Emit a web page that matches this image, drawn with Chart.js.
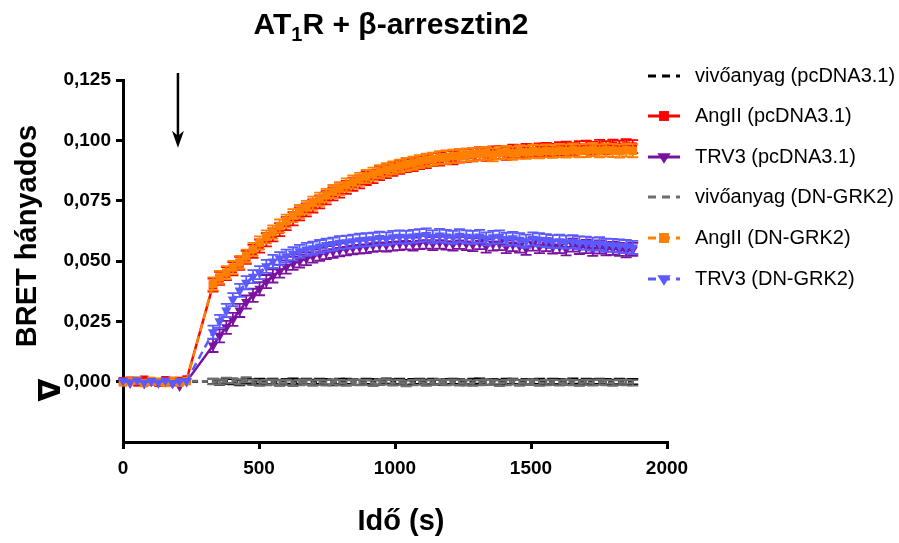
<!DOCTYPE html>
<html><head><meta charset="utf-8">
<script src="https://cdn.jsdelivr.net/npm/chart.js@4"></script>
<style>html,body{margin:0;padding:0;background:#fff}</style>
</head><body>
<canvas id="c" width="899" height="543"></canvas>
<script>
// ---- data ----
const times = [0,26,52,78,104,130,156,182,208,234,
 331,355,380,404,429,453,478,502,527,551,576,600,625,649,674,698,723,747,772,796,
 821,845,870,894,919,943,968,992,1017,1041,1066,1090,1115,1139,1164,1188,1213,1237,1262,1286,
 1311,1335,1360,1384,1409,1433,1458,1482,1507,1531,1556,1580,1605,1629,1654,1678,1703,1727,1752,1776,
 1801,1825,1850,1874];

const vehiclePc = [0.0003,-0.0002,0.0005,0.0001,-0.0004,0.0002,0.0004,-0.0003,0.0001,0.0000,
 0.0001,-0.0003,0.0002,0.0000,-0.0004,0.0003,-0.0001,0.0002,-0.0002,0.0001,
 -0.0005,0.0000,0.0003,-0.0002,0.0001,-0.0003,0.0002,0.0000,-0.0004,0.0001,
 0.0002,-0.0001,-0.0003,0.0002,0.0000,-0.0002,0.0003,-0.0001,0.0001,-0.0004,
 0.0000,0.0002,-0.0002,0.0001,-0.0003,0.0000,0.0002,-0.0001,-0.0004,0.0001,
 0.0003,-0.0002,0.0000,-0.0003,0.0001,0.0002,-0.0004,0.0000,-0.0001,0.0002,
 -0.0003,0.0001,0.0000,-0.0002,0.0003,-0.0004,0.0001,-0.0001,0.0002,0.0000,
 -0.0003,0.0001,-0.0002,0.0000];

const angIIPc = [0.0002,0.0004,-0.0003,0.0008,0.0001,-0.0004,0.0006,-0.0002,0.0003,0.0009,
 0.0400,0.0428,0.0448,0.0468,0.0490,0.0515,0.0540,0.0562,0.0588,0.0608,
 0.0630,0.0655,0.0675,0.0695,0.0712,0.0728,0.0745,0.0762,0.0778,0.0790,
 0.0805,0.0818,0.0828,0.0842,0.0850,0.0862,0.0870,0.0880,0.0888,0.0895,
 0.0900,0.0908,0.0912,0.0920,0.0922,0.0930,0.0928,0.0935,0.0938,0.0940,
 0.0945,0.0942,0.0948,0.0950,0.0946,0.0955,0.0952,0.0958,0.0955,0.0960,
 0.0962,0.0958,0.0965,0.0968,0.0962,0.0970,0.0972,0.0966,0.0975,0.0970,
 0.0976,0.0972,0.0978,0.0974];

const trv3Pc = [0.0001,-0.0006,0.0003,-0.0008,0.0002,-0.0005,0.0000,-0.0007,-0.0018,0.0001,
 0.0150,0.0190,0.0225,0.0258,0.0295,0.0330,0.0358,0.0385,0.0415,0.0438,
 0.0458,0.0475,0.0490,0.0500,0.0510,0.0520,0.0528,0.0535,0.0540,0.0546,
 0.0550,0.0555,0.0558,0.0560,0.0565,0.0568,0.0566,0.0570,0.0572,0.0575,
 0.0570,0.0576,0.0578,0.0572,0.0578,0.0574,0.0570,0.0577,0.0572,0.0568,
 0.0576,0.0562,0.0570,0.0572,0.0560,0.0568,0.0562,0.0552,0.0570,0.0560,
 0.0568,0.0558,0.0560,0.0550,0.0566,0.0556,0.0560,0.0548,0.0558,0.0550,
 0.0552,0.0548,0.0542,0.0548];

const vehicleDn = [0.0002,0.0006,-0.0003,0.0004,0.0000,-0.0005,0.0003,0.0001,-0.0002,0.0004,
 0.0000,-0.0002,0.0006,0.0004,-0.0001,0.0008,-0.0003,-0.0006,-0.0004,-0.0002,
 -0.0005,-0.0003,-0.0007,-0.0004,-0.0002,-0.0006,-0.0003,-0.0005,-0.0001,-0.0004,
 -0.0006,-0.0002,-0.0004,-0.0003,-0.0007,-0.0002,-0.0001,-0.0005,-0.0003,-0.0008,
 -0.0004,-0.0002,-0.0006,-0.0003,-0.0001,-0.0004,-0.0002,-0.0005,-0.0003,-0.0006,
 -0.0004,-0.0002,-0.0003,-0.0007,-0.0004,-0.0001,-0.0005,-0.0003,-0.0002,-0.0006,
 -0.0004,-0.0003,-0.0005,-0.0002,-0.0004,-0.0006,-0.0003,-0.0005,-0.0002,-0.0004,
 -0.0006,-0.0003,-0.0004,-0.0005];

const angIIDn = [-0.0003,0.0001,0.0005,-0.0006,0.0003,0.0000,-0.0005,0.0004,-0.0004,0.0002,
 0.0405,0.0432,0.0452,0.0473,0.0494,0.0520,0.0548,0.0575,0.0600,0.0620,
 0.0645,0.0665,0.0688,0.0705,0.0722,0.0740,0.0756,0.0772,0.0788,0.0800,
 0.0815,0.0828,0.0838,0.0850,0.0860,0.0870,0.0878,0.0886,0.0893,0.0900,
 0.0905,0.0912,0.0918,0.0922,0.0928,0.0930,0.0934,0.0936,0.0940,0.0942,
 0.0944,0.0946,0.0940,0.0948,0.0950,0.0946,0.0952,0.0950,0.0955,0.0952,
 0.0956,0.0954,0.0958,0.0955,0.0960,0.0956,0.0958,0.0962,0.0956,0.0960,
 0.0958,0.0955,0.0960,0.0957];

const trv3Dn = [0.0004,-0.0002,0.0006,-0.0004,0.0003,-0.0003,0.0005,-0.0006,0.0002,0.0003,
 0.0205,0.0250,0.0295,0.0340,0.0378,0.0410,0.0435,0.0452,0.0478,0.0498,
 0.0510,0.0520,0.0530,0.0540,0.0548,0.0553,0.0560,0.0566,0.0570,0.0576,
 0.0578,0.0582,0.0586,0.0588,0.0590,0.0595,0.0592,0.0598,0.0600,0.0598,
 0.0602,0.0605,0.0608,0.0600,0.0606,0.0602,0.0598,0.0605,0.0600,0.0598,
 0.0602,0.0592,0.0598,0.0600,0.0590,0.0594,0.0588,0.0582,0.0592,0.0588,
 0.0584,0.0580,0.0582,0.0578,0.0580,0.0575,0.0574,0.0570,0.0572,0.0566,
 0.0565,0.0562,0.0560,0.0556];

// SEM (error bar half-heights)
const semVehicle = 0.0011;
const semAgonist = 0.0027;

const seriesLabels = ['vivőanyag (pcDNA3.1)','AngII (pcDNA3.1)','TRV3 (pcDNA3.1)',
                      'vivőanyag (DN-GRK2)','AngII (DN-GRK2)','TRV3 (DN-GRK2)'];
const xTickValues = [0,500,1000,1500,2000];
const yTickValues = [0,0.025,0.05,0.075,0.1,0.125];
const titleParts = ['AT','1','R + β-arresztin2'];
const xTitle = 'Idő (s)';
const yTitle = 'BRET hányados';
const deltaGlyph = 'Δ';
const stimulusTime = 202;       // arrow (agonist addition)
const arrowFrom = 0.1279, arrowTo = 0.0969;

// ---- build ----
const pts = arr => arr.map((v,i)=>({x:times[i], y:v}));
const FONT = "'Liberation Sans', Arial, sans-serif";

const styles = [
 {color:'#000000', dash:[6,4], style:false, order:5, sem:semVehicle},
 {color:'#ff0000', dash:[],    style:'rect', order:4, sem:semAgonist},
 {color:'#7a12a0', dash:[],    style:'triangle', order:3, sem:semAgonist},
 {color:'#6e6e6e', dash:[6,4], style:false, order:2, sem:semVehicle},
 {color:'#ff8000', dash:[8,5], style:'rect', order:1, sem:semAgonist},
 {color:'#5a5aff', dash:[8,5], style:'triangle', order:0, sem:semAgonist}
];
const values = [vehiclePc, angIIPc, trv3Pc, vehicleDn, angIIDn, trv3Dn];

const datasets = values.map((v,i)=>{
  const s = styles[i];
  return {
    label: seriesLabels[i],
    data: pts(v),
    borderColor: s.color,
    backgroundColor: s.color,
    borderWidth: 2.5,
    borderDash: s.dash,
    pointStyle: s.style || 'circle',
    pointRadius: s.style ? 6 : 0,
    pointRotation: s.style === 'triangle' ? 180 : 0,
    pointBorderWidth: 0,
    order: s.order,
    sem: s.sem,
    tension: 0,
    clip: false
  };
});

function drawMarker(ctx, style, x, y, r, color){
  ctx.save();
  ctx.fillStyle = color;
  ctx.beginPath();
  if (style === 'rect'){
    const h = r*Math.SQRT1_2;
    ctx.rect(x-h, y-h, 2*h, 2*h);
  } else if (style === 'triangle'){
    ctx.moveTo(x-r*0.95, y-r*0.55);
    ctx.lineTo(x+r*0.95, y-r*0.55);
    ctx.lineTo(x, y+r*0.95);
    ctx.closePath();
  }
  ctx.fill();
  ctx.restore();
}

const errorBars = {
  id:'errorBars',
  beforeDatasetDraw(chart, args){
    const ds = chart.data.datasets[args.index];
    const ys = chart.scales.y, ctx = chart.ctx;
    ctx.save();
    ctx.strokeStyle = ds.borderColor;
    ctx.lineWidth = 1.8;
    ctx.setLineDash([]);
    args.meta.data.forEach((el,i)=>{
      const t = times[i];
      if (t < 300) return;
      const v = ds.data[i].y;
      const y1 = ys.getPixelForValue(v + ds.sem), y2 = ys.getPixelForValue(v - ds.sem);
      ctx.beginPath();
      ctx.moveTo(el.x, y1); ctx.lineTo(el.x, y2);
      ctx.moveTo(el.x-5.5, y1); ctx.lineTo(el.x+5.5, y1);
      ctx.moveTo(el.x-5.5, y2); ctx.lineTo(el.x+5.5, y2);
      ctx.stroke();
    });
    ctx.restore();
  }
};

const decorations = {
  id:'decorations',
  afterDraw(chart){
    const ctx = chart.ctx, xs = chart.scales.x, ys = chart.scales.y, ca = chart.chartArea;
    ctx.save();
    ctx.fillStyle = '#000';
    // title
    const big = 'bold 30px ' + FONT, small = 'bold 20px ' + FONT;
    ctx.font = big; const w0 = ctx.measureText(titleParts[0]).width;
    const w2 = ctx.measureText(titleParts[2]).width;
    ctx.font = small; const w1 = ctx.measureText(titleParts[1]).width;
    const total = w0 + w1 + w2;
    let tx = 391 - total/2; const ty = 34;
    ctx.textBaseline = 'alphabetic'; ctx.textAlign = 'left';
    ctx.font = big; ctx.fillText(titleParts[0], tx, ty); tx += w0;
    ctx.font = small; ctx.fillText(titleParts[1], tx, ty + 7); tx += w1;
    ctx.font = big; ctx.fillText(titleParts[2], tx, ty);
    // x title
    ctx.font = 'bold 29px ' + FONT; ctx.textAlign = 'center';
    ctx.fillText(xTitle, (ca.left+ca.right)/2 + 6, 530);
    // y title
    ctx.save();
    ctx.translate(36, 236); ctx.rotate(-Math.PI/2);
    ctx.fillText(yTitle, 0, 0);
    ctx.restore();
    // delta glyph (rotated, belongs to the y title)
    ctx.save();
    ctx.font = "bold 30px 'DejaVu Sans', sans-serif";
    ctx.translate(38, 390); ctx.rotate(Math.PI/2);
    ctx.textAlign = 'center'; ctx.textBaseline = 'alphabetic';
    ctx.fillText(deltaGlyph, 0, 0);
    ctx.restore();
    // arrow
    const ax = xs.getPixelForValue(stimulusTime);
    const ay1 = ys.getPixelForValue(arrowFrom), ay2 = ys.getPixelForValue(arrowTo);
    ctx.strokeStyle = '#000'; ctx.lineWidth = 2.5; ctx.setLineDash([]);
    ctx.beginPath(); ctx.moveTo(ax, ay1); ctx.lineTo(ax, ay2 - 10); ctx.stroke();
    ctx.beginPath(); ctx.moveTo(ax-6, ay2-17); ctx.lineTo(ax, ay2); ctx.lineTo(ax+6, ay2-17);
    ctx.lineTo(ax, ay2-12); ctx.closePath(); ctx.fill();
    // legend
    const rows = [76,116,157,197,238,279];
    ctx.font = '20px ' + FONT; ctx.textAlign = 'left'; ctx.textBaseline = 'middle';
    chart.data.datasets.forEach((ds,i)=>{
      const y = rows[i], s = styles[i];
      ctx.strokeStyle = s.color; ctx.lineWidth = 3;
      ctx.setLineDash(s.dash.length ? [8,6] : []);
      ctx.beginPath(); ctx.moveTo(648, y); ctx.lineTo(680, y); ctx.stroke();
      ctx.setLineDash([]);
      if (s.style) drawMarker(ctx, s.style, 664, y, 7, s.color);
      ctx.fillStyle = '#000';
      ctx.fillText(ds.label, 695, y);
    });
    ctx.restore();
  }
};

new Chart(document.getElementById('c'), {
  type:'line',
  data:{datasets},
  plugins:[errorBars, decorations],
  options:{
    responsive:false, animation:false, devicePixelRatio:1,
    layout:{padding:{left:0, right:232, top:80, bottom:0}},
    plugins:{legend:{display:false}, title:{display:false}, tooltip:{enabled:false}},
    scales:{
      x:{type:'linear', min:0, max:2000,
        afterBuildTicks(s){ s.ticks = xTickValues.map(v=>({value:v})); },
        ticks:{color:'#000', font:{family:FONT, weight:'bold', size:19}, padding:8, maxRotation:0,
               callback:v=>String(v)},
        grid:{display:true, drawOnChartArea:false, drawTicks:true, tickLength:7, lineWidth:3, color:'#000'},
        border:{display:true, width:3, color:'#000'},
        afterFit(s){ s.height = 101; }
      },
      y:{type:'linear', min:-0.025, max:0.125,
        afterBuildTicks(s){ s.ticks = yTickValues.map(v=>({value:v})); },
        ticks:{color:'#000', font:{family:FONT, weight:'bold', size:19}, padding:5,
               callback:v=>v.toFixed(3).replace('.', ',')},
        grid:{display:true, drawOnChartArea:false, drawTicks:true, tickLength:7, lineWidth:3, color:'#000'},
        border:{display:true, width:3, color:'#000'},
        afterFit(s){ s.width = 123; }
      }
    }
  }
});
</script>
</body></html>
